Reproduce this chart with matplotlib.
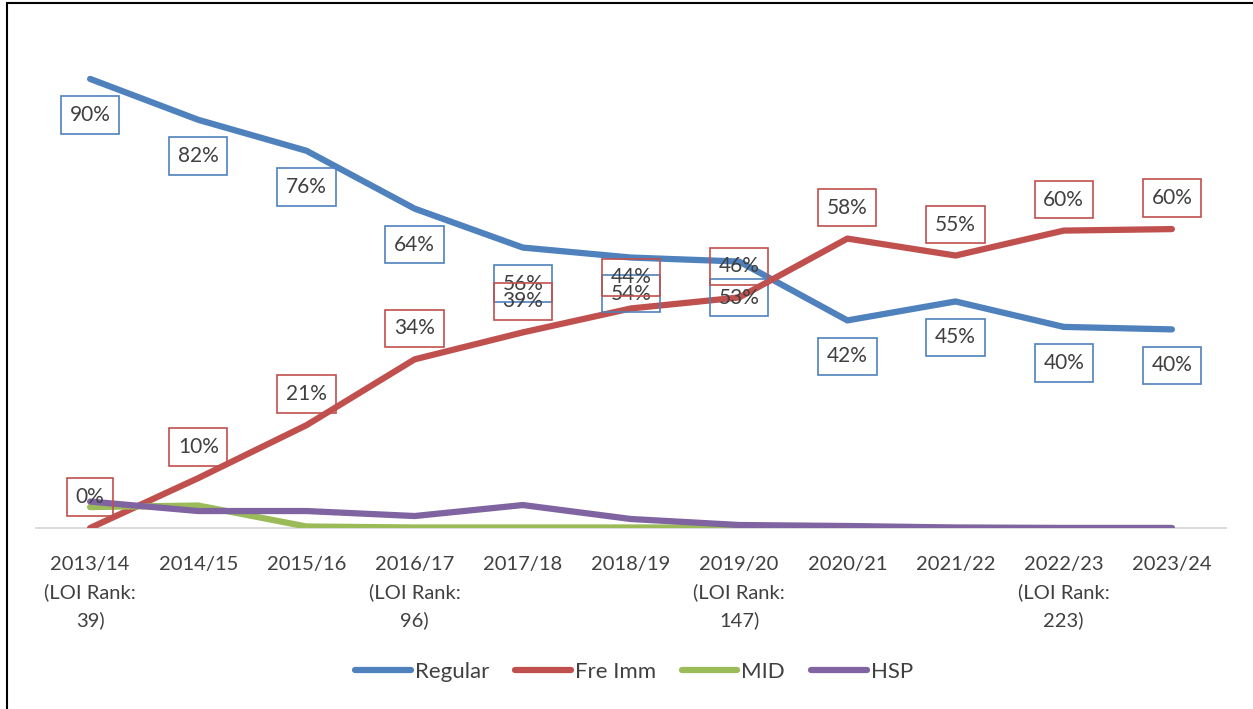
import matplotlib
matplotlib.use("Agg")
import matplotlib.pyplot as plt
from matplotlib.patches import Rectangle

categories = ["2013/14\n(LOI Rank:\n39)", "2014/15", "2015/16", "2016/17\n(LOI Rank:\n96)",
              "2017/18", "2018/19", "2019/20\n(LOI Rank:\n147)", "2020/21", "2021/22",
              "2022/23\n(LOI Rank:\n223)", "2023/24"]
regular = [90.0, 81.8, 75.6, 64.0, 56.2, 54.2, 53.4, 41.6, 45.4, 40.3, 39.8]
fre_imm = [0.0, 10.0, 20.6, 33.8, 39.2, 44.0, 46.2, 58.0, 54.6, 59.6, 59.9]
mid = [4.2, 4.5, 0.3, 0.1, 0.1, 0.1, 0.1, 0.0, 0.0, 0.0, 0.0]
hsp = [5.3, 3.4, 3.4, 2.4, 4.6, 1.8, 0.6, 0.4, 0.1, 0.0, 0.0]

plt.rcParams['font.family'] = ['Lato', 'DejaVu Sans']
TXT = '#404040'
C_REG, C_FRE, C_MID, C_HSP = '#4f81bd', '#c0504d', '#9bbb59', '#8064a2'

fig = plt.figure(figsize=(12.53, 7.09), dpi=100)
ax = fig.add_axes([36/1253, 1-528/709, (1226-36)/1253, (528-29)/709])
x = list(range(len(categories)))

lw = 4.5
ax.plot(x, regular, color=C_REG, lw=lw, solid_capstyle='round', label='Regular', zorder=3)
ax.plot(x, fre_imm, color=C_FRE, lw=lw, solid_capstyle='round', label='Fre Imm', zorder=4)
ax.plot(x, mid, color=C_MID, lw=lw, solid_capstyle='round', label='MID', zorder=5)
ax.plot(x, hsp, color=C_HSP, lw=lw, solid_capstyle='round', label='HSP', zorder=6)

for xi, v in zip(x, regular):
    ax.annotate(f"{round(v):.0f}%", (xi, v), xytext=(0, -36), textcoords='offset pixels',
                ha='center', va='center', fontsize=15, color=TXT, zorder=7,
                bbox=dict(boxstyle='square,pad=0.42', fc='none', ec=C_REG, lw=1.2))
for xi, v in zip(x, fre_imm):
    ax.annotate(f"{round(v):.0f}%", (xi, v), xytext=(0, 31), textcoords='offset pixels',
                ha='center', va='center', fontsize=15, color=TXT, zorder=8,
                bbox=dict(boxstyle='square,pad=0.42', fc='none', ec=C_FRE, lw=1.2))

ax.set_xlim(-0.5, len(categories) - 0.5)
ax.set_ylim(0, 100)
ax.set_xticks(x)
ax.set_xticklabels(categories, fontsize=14.5, color=TXT, linespacing=1.68, va='top')
ax.tick_params(axis='x', length=0, pad=20)
ax.set_yticks([])
for s in ['top', 'right', 'left']:
    ax.spines[s].set_visible(False)
ax.spines['bottom'].set_color('#d9d9d9')
ax.spines['bottom'].set_linewidth(1.3)
ax.spines['bottom'].set_zorder(1)

leg = fig.legend(loc='center', bbox_to_anchor=(634/1253, 1-672/709), ncol=4, frameon=False,
                 fontsize=16, handlelength=2.5, handletextpad=0.18, columnspacing=1.17)
for t in leg.get_texts():
    t.set_color(TXT)
for h in leg.get_lines():
    h.set_solid_capstyle('round')

fig.patches.append(Rectangle((7/1253, -0.02), 1.2, 1.02 - 3/709, transform=fig.transFigure,
                             fill=False, ec='black', lw=1.5))

fig.savefig('out.png', dpi=100)
